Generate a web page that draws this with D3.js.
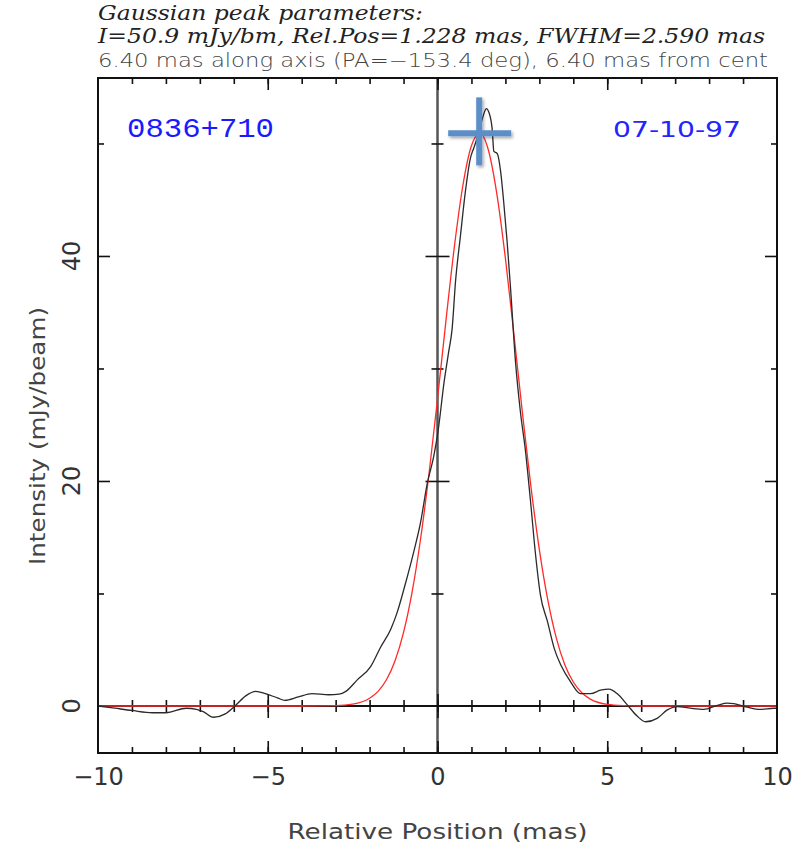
<!DOCTYPE html>
<html>
<head>
<meta charset="utf-8">
<script src="https://cdn.jsdelivr.net/npm/d3@7"></script>
<style>
  body { margin: 0; background: #fff; }
  svg { display: block; }
</style>
</head>
<body>
<script>
// slice through the image (black trace)
var position = [-10, -9.5, -9.0, -8.4, -8.0, -7.4, -7.1, -6.9, -6.6, -6.25, -5.95, -5.65, -5.35, -5.07,
  -4.7, -4.5, -4.1, -3.7, -3.2, -2.9, -2.7, -2.37, -1.97, -1.68, -1.38, -1.19, -0.97, -0.7, -0.5,
  -0.3, -0.11, 0.02, 0.19, 0.33, 0.43, 0.53, 0.68, 0.82, 0.97, 1.07, 1.22, 1.35, 1.44, 1.51, 1.61,
  1.66, 1.76, 1.86, 1.95, 2.05, 2.15, 2.3, 2.44, 2.59, 2.74, 2.89, 3.03, 3.24, 3.44, 3.64, 3.93,
  4.21, 4.51, 4.8, 5.05, 5.29, 5.59, 5.88, 6.13, 6.47, 6.77, 7.06, 7.45, 7.84, 8.24, 8.53, 8.73,
  9.12, 9.51, 9.9, 10];
var intensity = [0, -0.2, -0.4, -0.6, -0.6, -0.2, -0.3, -0.5, -1.0, -0.7, 0.05, 0.9, 1.3, 1.1,
  0.7, 0.5, 0.8, 1.1, 1.0, 1.05, 1.3, 2.3, 3.5, 5.2, 6.8, 8.3, 10.6, 13.7, 16.3,
  19.8, 22.2, 24.5, 28.7, 31.5, 33.5, 37.7, 41.9, 45.7, 48.7, 49.6, 51.0, 52.5, 53.1, 52.8, 51.3,
  49.3, 49.1, 47.5, 44.8, 41.3, 37.2, 30.5, 26.2, 22.7, 18.2, 13.4, 9.9, 7.5, 5.1, 3.6, 2.1,
  1.1, 1.1, 1.4, 1.5, 1.1, 0.1, -0.9, -1.4, -1.1, -0.35, -0.05, -0.2, -0.3, 0.05, 0.25, 0.2,
  -0.1, -0.3, -0.2, -0.2];

// gaussian fit (red trace)
var fitPosition = [-10, -6, -4, -3, -2.5, -2, -1.75, -1.5, -1.25, -1, -0.75, -0.5, -0.25, 0, 0.25,
  0.5, 0.75, 1, 1.25, 1.5, 1.75, 2, 2.25, 2.5, 2.75, 3, 3.25, 3.5, 3.75, 4, 4.25, 4.5, 5, 5.5, 6, 8, 10];
var fitIntensity = [0, 0, 0, 0.03, 0.16, 0.69, 1.30, 2.35, 4.02, 6.54, 10.10, 14.82, 20.64, 27.30, 34.28,
  40.90, 46.31, 49.80, 50.89, 49.40, 45.48, 39.80, 33.05, 26.10, 19.54, 13.90, 9.40, 6.03, 3.67, 2.13, 1.17, 0.61, 0.14, 0.03, 0, 0, 0];

var peakPos = 1.228, peakValue = 50.9;

var xMinorTicks = d3.range(-9, 10, 1);
var xMajorTicks = [-10, -5, 0, 5, 10];
var xTickLabels = ["\u221210", "\u22125", "0", "5", "10"];
var yMinorTicks = [10, 30, 50];
var yMajorTicks = [0, 20, 40];
var yTickLabels = ["0", "20", "40"];

var titleLines = ["Gaussian peak parameters:",
  "I=50.9 mJy/bm, Rel.Pos=1.228 mas, FWHM=2.590 mas",
  "6.40 mas along axis (PA=\u2212153.4 deg), 6.40 mas from cent"];
var sourceName = "0836+710";
var obsDate = "07-10-97";

var width = 800, height = 849;
var margin = {top: 78, right: 23, bottom: 96, left: 98};

var svg = d3.select("body").append("svg")
  .attr("width", width)
  .attr("height", height);

var defs = svg.append("defs");
defs.append("clipPath").attr("id", "plotclip")
  .append("rect")
  .attr("x", margin.left).attr("y", margin.top)
  .attr("width", width - margin.left - margin.right)
  .attr("height", height - margin.top - margin.bottom);
var shadow = defs.append("filter").attr("id", "shadow")
  .attr("x", "-50%").attr("y", "-50%").attr("width", "200%").attr("height", "200%");
shadow.append("feDropShadow").attr("dx", 1.5).attr("dy", 2).attr("stdDeviation", 1.5)
  .attr("flood-color", "#000").attr("flood-opacity", 0.35);

// scales
var x = d3.scaleLinear().domain([-10, 10]).range([margin.left, width - margin.right]);
var y = d3.scaleLinear().domain([-4.18, 55.82]).range([height - margin.bottom, margin.top]);

var x0 = x(0), y0 = y(0);
var plotTop = y.range()[1], plotBottom = y.range()[0];
var plotLeft = x.range()[0], plotRight = x.range()[1];

// title lines
svg.append("text").attr("x", 98).attr("y", 20)
  .attr("textLength", 325).attr("lengthAdjust", "spacingAndGlyphs")
  .style("font-family", "DejaVu Serif").style("font-style", "italic")
  .style("font-size", "20px").style("fill", "#222")
  .text(titleLines[0]);
svg.append("text").attr("x", 98).attr("y", 43)
  .attr("textLength", 667).attr("lengthAdjust", "spacingAndGlyphs")
  .style("font-family", "DejaVu Serif").style("font-style", "italic")
  .style("font-size", "21px").style("fill", "#222")
  .text(titleLines[1]);
svg.append("text").attr("x", 98).attr("y", 67)
  .attr("textLength", 670).attr("lengthAdjust", "spacingAndGlyphs")
  .style("font-family", "DejaVu Sans").style("font-weight", "300")
  .style("font-size", "19px").style("fill", "#444")
  .text(titleLines[2]);

// zero lines
svg.append("line")
  .attr("x1", x0).attr("x2", x0).attr("y1", plotTop).attr("y2", plotBottom)
  .style("stroke", "#555").style("stroke-width", 2.5);
svg.append("line")
  .attr("x1", plotLeft).attr("x2", plotRight).attr("y1", y0).attr("y2", y0)
  .style("stroke", "#111").style("stroke-width", 2);

// tick marks: inward on the frame, crossing on the zero lines
function ticks(g, axisFn, scale, values, size) {
  g.call(axisFn(scale).tickValues(values).tickSize(size).tickFormat(""))
    .call(function(s) { s.select(".domain").remove(); })
    .selectAll("line").style("stroke", "#111").style("stroke-width", 1.6);
}
[[xMinorTicks, 6], [[-5, 0, 5], 12]].forEach(function(t) {
  ticks(svg.append("g").attr("transform", "translate(0," + plotTop + ")"), d3.axisBottom, x, t[0], t[1]);
  ticks(svg.append("g").attr("transform", "translate(0," + plotBottom + ")"), d3.axisTop, x, t[0], t[1]);
  ticks(svg.append("g").attr("transform", "translate(0," + y0 + ")"), d3.axisTop, x, t[0], t[1]);
  ticks(svg.append("g").attr("transform", "translate(0," + y0 + ")"), d3.axisBottom, x, t[0], t[1]);
});
[[yMinorTicks, 6], [[20, 40], 12]].forEach(function(t) {
  ticks(svg.append("g").attr("transform", "translate(" + plotLeft + ",0)"), d3.axisRight, y, t[0], t[1]);
  ticks(svg.append("g").attr("transform", "translate(" + plotRight + ",0)"), d3.axisLeft, y, t[0], t[1]);
  ticks(svg.append("g").attr("transform", "translate(" + x0 + ",0)"), d3.axisLeft, y, t[0], t[1]);
  ticks(svg.append("g").attr("transform", "translate(" + x0 + ",0)"), d3.axisRight, y, t[0], t[1]);
});

// curves
var plot = svg.append("g").attr("clip-path", "url(#plotclip)");

var fitLine = d3.line()
  .x(function(d) { return x(d[0]); })
  .y(function(d) { return y(d[1]); })
  .curve(d3.curveMonotoneX);
plot.append("path")
  .datum(d3.zip(fitPosition, fitIntensity))
  .attr("d", fitLine)
  .style("fill", "none").style("stroke", "#ff2a2a").style("stroke-width", 1.3);

var sliceLine = d3.line()
  .x(function(d) { return x(d[0]); })
  .y(function(d) { return y(d[1]); })
  .curve(d3.curveMonotoneX);
plot.append("path")
  .datum(d3.zip(position, intensity))
  .attr("d", sliceLine)
  .style("fill", "none").style("stroke", "#2a2a2a").style("stroke-width", 1.3);

// frame
svg.append("rect")
  .attr("x", plotLeft).attr("y", plotTop)
  .attr("width", plotRight - plotLeft).attr("height", plotBottom - plotTop)
  .style("fill", "none").style("stroke", "#111").style("stroke-width", 2);

// x tick labels
svg.append("g").attr("transform", "translate(0," + plotBottom + ")")
  .call(d3.axisBottom(x).tickValues(xMajorTicks).tickSize(0).tickPadding(15)
    .tickFormat(function(d, i) { return xTickLabels[i]; }))
  .call(function(g) { g.select(".domain").remove(); })
  .selectAll("text")
  .style("font-family", "DejaVu Sans").style("font-size", "24px").style("fill", "#333");

// y tick labels, rotated
svg.selectAll(".ylab").data(yMajorTicks).enter().append("text")
  .attr("class", "ylab")
  .attr("transform", function(d) { return "translate(80," + y(d) + ")rotate(-90)"; })
  .attr("text-anchor", "middle")
  .style("font-family", "DejaVu Sans").style("font-size", "24px").style("fill", "#333")
  .text(function(d, i) { return yTickLabels[i]; });

// axis titles
svg.append("text")
  .attr("transform", "translate(45,436)rotate(-90)")
  .attr("text-anchor", "middle")
  .attr("textLength", 258).attr("lengthAdjust", "spacingAndGlyphs")
  .style("font-family", "DejaVu Sans").style("font-size", "22px").style("fill", "#444")
  .text("Intensity (mJy/beam)");
svg.append("text")
  .attr("x", x0).attr("y", 839)
  .attr("text-anchor", "middle")
  .attr("textLength", 300).attr("lengthAdjust", "spacingAndGlyphs")
  .style("font-family", "DejaVu Sans").style("font-size", "22px").style("fill", "#444")
  .text("Relative Position (mas)");

// source name and epoch
svg.append("text").attr("x", 127).attr("y", 137)
  .attr("textLength", 147).attr("lengthAdjust", "spacingAndGlyphs")
  .style("font-family", "Liberation Mono").style("font-size", "28px").style("fill", "#1a1aff")
  .text(sourceName);
svg.append("text").attr("x", 613).attr("y", 137)
  .attr("textLength", 128).attr("lengthAdjust", "spacingAndGlyphs")
  .style("font-family", "DejaVu Sans").style("font-size", "22px").style("fill", "#2424ff")
  .text(obsDate);

// peak marker cross
var cross = svg.append("g").attr("filter", "url(#shadow)")
  .style("stroke", "#5b8fc8").style("stroke-width", 6);
cross.append("line")
  .attr("x1", x(peakPos) - 31).attr("x2", x(peakPos) + 32)
  .attr("y1", y(peakValue)).attr("y2", y(peakValue));
cross.append("line")
  .attr("x1", x(peakPos)).attr("x2", x(peakPos))
  .attr("y1", y(peakValue) - 36).attr("y2", y(peakValue) + 32);
</script>
</body>
</html>
